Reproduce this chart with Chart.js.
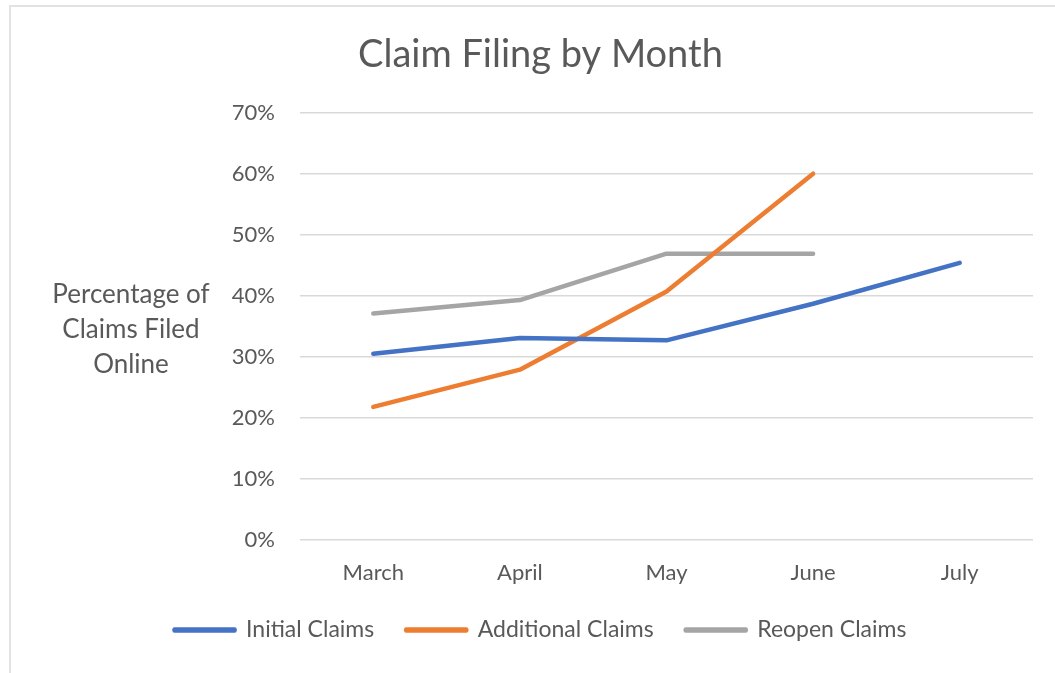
<!DOCTYPE html>
<html>
<head>
<meta charset="utf-8">
<script src="https://cdn.jsdelivr.net/npm/chart.js@4.4.1/dist/chart.umd.min.js"></script>
<style>
  html, body { margin: 0; padding: 0; background: #fff; }
  #wrap { position: relative; width: 1055px; height: 673px; overflow: hidden; }
  #frame { position: absolute; left: 9px; top: 5px; width: 1100px; height: 700px;
           border-top: 2px solid #e2e2e2; border-left: 2px solid #e2e2e2; pointer-events: none; }
  canvas { position: absolute; left: 0; top: 0; }
</style>
</head>
<body>
<div id="wrap">
  <canvas id="c" width="1055" height="673"></canvas>
  <div id="frame"></div>
</div>
<script>
const categories = ['March', 'April', 'May', 'June', 'July'];
const initialClaims = [30.5, 33.1, 32.7, 38.7, 45.4];
const additionalClaims = [21.8, 27.9, 40.7, 60.0, null];
const reopenClaims = [37.1, 39.3, 46.9, 46.9, null];
const seriesNames = ['Initial Claims', 'Additional Claims', 'Reopen Claims'];
const yTickValues = [0, 10, 20, 30, 40, 50, 60, 70];
const yTitleLines = ['Percentage of', 'Claims Filed', 'Online'];
const chartTitle = 'Claim Filing by Month';

const FONT = 'Lato, "Open Sans", sans-serif';
const TEXT = '#595959';

const yTitlePlugin = {
  id: 'yTitle',
  afterDraw(chart) {
    const ctx = chart.ctx, a = chart.chartArea;
    ctx.save();
    ctx.font = '26px ' + FONT;
    ctx.fillStyle = TEXT;
    ctx.textAlign = 'center';
    ctx.textBaseline = 'middle';
    const mid = (a.top + a.bottom) / 2 + 3;
    const x = a.left - 169;
    yTitleLines.forEach((t, i) => ctx.fillText(t, x, mid + (i - 1) * 35));
    ctx.restore();
  }
};

new Chart(document.getElementById('c'), {
  type: 'line',
  data: {
    labels: categories,
    datasets: [
      { label: seriesNames[0], data: initialClaims, borderColor: '#4472C4', backgroundColor: '#4472C4' },
      { label: seriesNames[1], data: additionalClaims, borderColor: '#ED7D31', backgroundColor: '#ED7D31' },
      { label: seriesNames[2], data: reopenClaims, borderColor: '#A5A5A5', backgroundColor: '#A5A5A5' }
    ]
  },
  options: {
    responsive: false,
    animation: false,
    layout: { padding: { left: 48, right: 22, top: 0, bottom: 21.5 } },
    elements: {
      line: { borderWidth: 4.5, tension: 0, borderCapStyle: 'round', borderJoinStyle: 'round' },
      point: { radius: 0, hoverRadius: 0 }
    },
    plugins: {
      title: {
        display: true, text: chartTitle, color: TEXT,
        font: { family: FONT, size: 38, weight: 'normal' },
        padding: { top: 32, bottom: 35 }
      },
      legend: {
        position: 'bottom',
        labels: {
          color: TEXT, font: { family: FONT, size: 23 },
          boxWidth: 60, boxHeight: 1, padding: 32
        }
      },
      tooltip: { enabled: false }
    },
    scales: {
      x: {
        offset: true,
        afterFit(s) { s.height = 46.5; },
        grid: { display: false, drawTicks: false },
        border: { display: false },
        ticks: { color: TEXT, font: { family: FONT, size: 22 }, padding: 20, maxRotation: 0 }
      },
      y: {
        min: 0, max: 70,
        afterFit(s) { s.width = 252; },
        afterBuildTicks(s) { s.ticks = yTickValues.map(v => ({ value: v })); },
        grid: { color: '#d9d9d9', lineWidth: 1.5, drawTicks: false },
        border: { display: false },
        ticks: { color: TEXT, font: { family: FONT, size: 22 }, padding: 25, callback: v => v + '%' }
      }
    }
  },
  plugins: [yTitlePlugin]
});
</script>
</body>
</html>
